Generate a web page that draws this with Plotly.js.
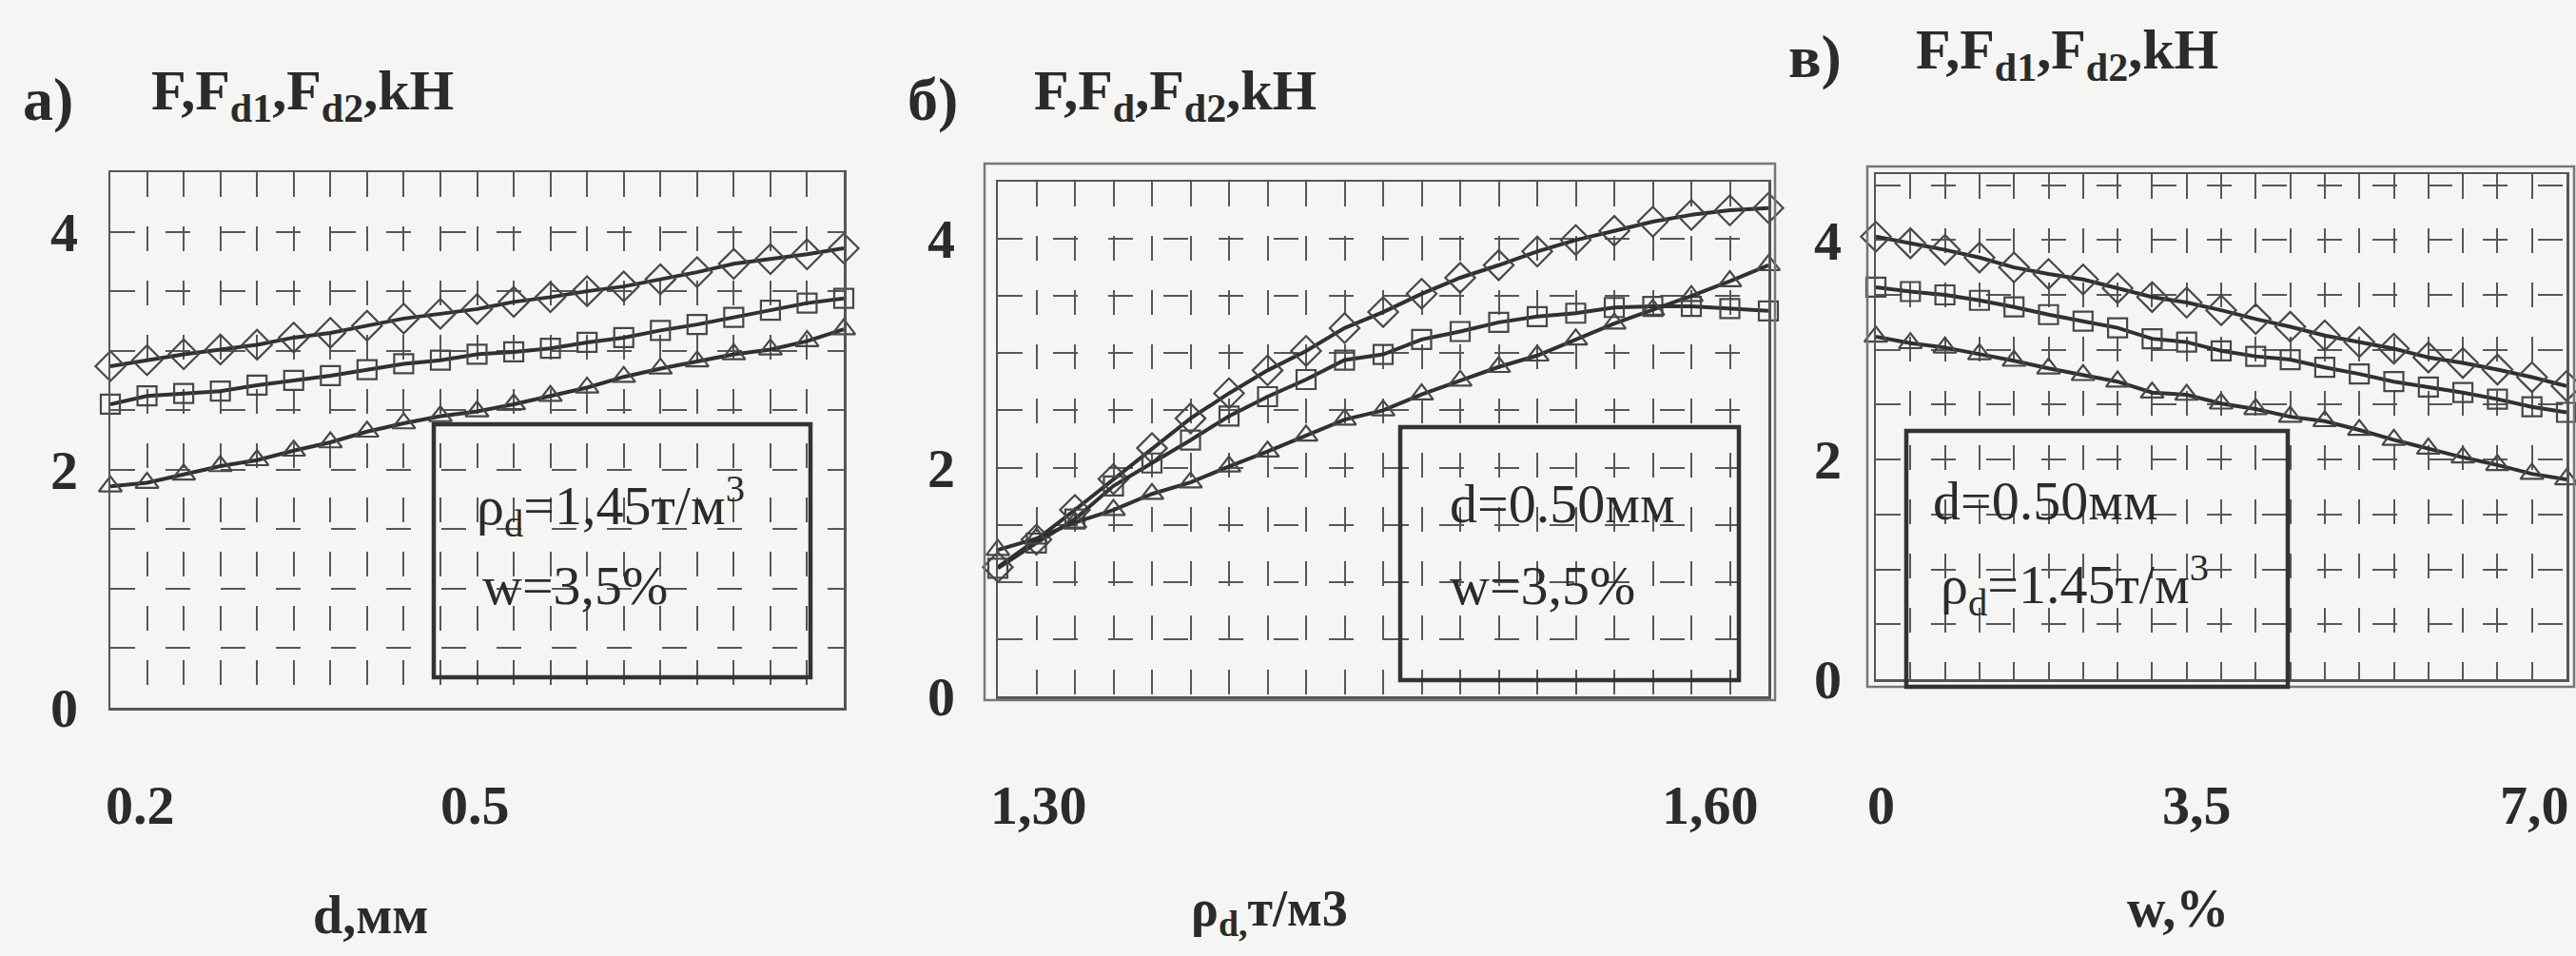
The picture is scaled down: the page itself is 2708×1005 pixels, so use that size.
<!DOCTYPE html>
<html>
<head>
<meta charset="utf-8">
<script src="https://cdn.plot.ly/plotly-3.0.1.min.js"></script>
<style>
  html, body { margin: 0; padding: 0; background: #f5f5f3; }
  #chart { width: 2708px; height: 1005px; }
</style>
</head>
<body>
<div id="chart"></div>
<script>
// ---------- data ----------
// panel a: force vs particle size d, mm
const dA = [0.20,0.23,0.26,0.29,0.32,0.35,0.38,0.41,0.44,0.47,0.50,0.53,0.56,0.59,0.62,0.65,0.68,0.71,0.74,0.77,0.80];
const F_A   = [2.87,2.92,2.97,3.01,3.05,3.11,3.15,3.21,3.27,3.31,3.35,3.41,3.45,3.50,3.54,3.60,3.66,3.73,3.77,3.81,3.86];
const Fd1_A = [2.55,2.62,2.64,2.66,2.71,2.75,2.79,2.84,2.89,2.92,2.97,2.99,3.02,3.07,3.11,3.17,3.22,3.28,3.34,3.40,3.44];
const Fd2_A = [1.86,1.89,1.96,2.03,2.08,2.16,2.23,2.32,2.39,2.45,2.49,2.55,2.62,2.69,2.78,2.85,2.91,2.97,3.01,3.08,3.18];

// panel b: force vs dry density rho_d, t/m3
const rhoB = [1.300,1.315,1.330,1.345,1.360,1.375,1.390,1.405,1.420,1.435,1.450,1.465,1.480,1.495,1.510,1.525,1.540,1.555,1.570,1.585,1.600];
const F_B   = [1.13,1.37,1.63,1.90,2.17,2.43,2.65,2.85,3.02,3.22,3.36,3.52,3.66,3.77,3.89,3.99,4.07,4.15,4.21,4.25,4.27];
const Fd1_B = [1.12,1.34,1.55,1.84,2.04,2.24,2.45,2.62,2.77,2.94,2.99,3.12,3.19,3.27,3.32,3.35,3.40,3.41,3.41,3.39,3.37];
const Fd2_B = [1.28,1.38,1.52,1.63,1.77,1.87,2.01,2.14,2.28,2.42,2.50,2.64,2.76,2.88,2.98,3.12,3.26,3.38,3.50,3.63,3.77];

// panel v: force vs moisture w, %
const wV = [0,0.35,0.70,1.05,1.40,1.75,2.10,2.45,2.80,3.15,3.50,3.85,4.20,4.55,4.90,5.25,5.60,5.95,6.30,6.65,7.00];
const F_V   = [4.03,3.97,3.91,3.84,3.75,3.69,3.64,3.56,3.48,3.43,3.36,3.28,3.21,3.13,3.07,3.01,2.93,2.88,2.82,2.75,2.67];
const Fd1_V = [3.57,3.53,3.50,3.45,3.39,3.32,3.26,3.20,3.10,3.07,2.99,2.94,2.91,2.84,2.78,2.71,2.66,2.61,2.55,2.48,2.43];
const Fd2_V = [3.12,3.06,3.02,2.96,2.90,2.83,2.77,2.71,2.61,2.59,2.51,2.46,2.39,2.35,2.27,2.18,2.10,2.02,1.95,1.87,1.82];

// axis tick labels
const yTicks = [0, 2, 4];
const yTickText = ['0', '2', '4'];
const yMinorGrid = [0.5,1,1.5,2.5,3,3.5,4.5];
const xLabA = [0.2, 0.5], xLabAText = ['0.2','0.5'];
const xLabB = [1.30, 1.60], xLabBText = ['1,30','1,60'];
const xLabV = [0, 3.5, 7.0], xLabVText = ['0','3,5','7,0'];

// texts
const panelLetters = ['а)','б)','в)'];
const panelTitles = ['F,F<sub>d1</sub>,F<sub>d2</sub>,kH','F,F<sub>d</sub>,F<sub>d2</sub>,kH','F,F<sub>d1</sub>,F<sub>d2</sub>,kH'];
const axisTitles = ['d,мм','ρ<sub>d,</sub>т/м3','w,%'];
const boxTexts = [
  ['ρ<sub>d</sub>=1,45т/м<sup>3</sup>','w=3,5%'],
  ['d=0.50мм','w=3,5%'],
  ['d=0.50мм','ρ<sub>d</sub>=1.45т/м<sup>3</sup>']
];

// ---------- styling ----------
const W = 2708, H = 1005;
const px = v => v / W;
const py = v => 1 - v / H;
const LINE = '#303030', MK = '#474747', TXT = '#2b2b2b', GRID = '#575757';
const SERIF = 'Liberation Serif, Times New Roman, serif';

function series(x, y, xa, ya, symbol, size) {
  return {
    x: x, y: y, xaxis: xa, yaxis: ya, type: 'scatter', mode: 'lines+markers',
    cliponaxis: false, hoverinfo: 'skip',
    line: {color: LINE, width: 4},
    marker: {symbol: symbol, size: size, color: MK, line: {color: MK, width: 2.2}}
  };
}

const traces = [
  series(dA, F_A, 'x', 'y', 'diamond-open', 24),
  series(dA, Fd1_A, 'x', 'y', 'square-open', 20),
  series(dA, Fd2_A, 'x', 'y', 'triangle-up-open', 21),
  series(rhoB, F_B, 'x2', 'y2', 'diamond-open', 24),
  series(rhoB, Fd1_B, 'x2', 'y2', 'square-open', 20),
  series(rhoB, Fd2_B, 'x2', 'y2', 'triangle-up-open', 21),
  series(wV, F_V, 'x3', 'y3', 'diamond-open', 24),
  series(wV, Fd1_V, 'x3', 'y3', 'square-open', 20),
  series(wV, Fd2_V, 'x3', 'y3', 'triangle-up-open', 21)
];

function xAxis(domain, range, gridVals, anchor) {
  return {
    domain: domain, range: range, anchor: anchor,
    tickmode: 'array', tickvals: gridVals, showticklabels: false, ticks: '',
    showgrid: true, gridcolor: GRID, gridwidth: 2, griddash: '26px,31px',
    zeroline: false, showline: true, mirror: true, linecolor: '#555', linewidth: 2.5,
    fixedrange: true
  };
}
function yAxis(domain, range, anchor, standoff) {
  return {
    domain: domain, range: range, anchor: anchor,
    tickmode: 'array', tickvals: yTicks, ticktext: yTickText, ticks: '',
    ticklabelstandoff: standoff,
    tickfont: {family: SERIF, size: 58, color: TXT, weight: 'bold'},
    showgrid: true, gridcolor: GRID, gridwidth: 2, griddash: '26px,32px',
    minor: {tickmode: 'array', tickvals: yMinorGrid, ticks: '', showgrid: true,
            gridcolor: GRID, gridwidth: 2, griddash: '26px,32px'},
    zeroline: false, showline: true, mirror: true, linecolor: '#555', linewidth: 2.5,
    fixedrange: true
  };
}

const annotations = [];
function txt(text, x, y, xanchor, size, bold) {
  annotations.push({
    text: text, x: x, y: y, xref: 'paper', yref: 'paper', xanchor: xanchor, yanchor: 'middle',
    showarrow: false, font: {family: SERIF, size: size, color: TXT, weight: bold ? 'bold' : 'normal'}
  });
}
function tickLab(vals, texts, xref, shifts) {
  vals.forEach((v, i) => annotations.push({
    text: texts[i], x: v, y: py(846), xref: xref, yref: 'paper', xanchor: 'center', yanchor: 'middle',
    xshift: shifts[i], showarrow: false,
    font: {family: SERIF, size: 58, color: TXT, weight: 'bold'}
  }));
}

// panel letters and titles
txt(panelLetters[0], px(50), py(105), 'center', 64, true);
txt(panelTitles[0], px(157), py(100), 'left', 60, true);
txt(panelLetters[1], px(980), py(105), 'center', 64, true);
txt(panelTitles[1], px(1085), py(100), 'left', 60, true);
txt(panelLetters[2], px(1908), py(60), 'center', 64, true);
txt(panelTitles[2], px(2012), py(56), 'left', 60, true);

// axis titles
txt(axisTitles[0], px(389), py(962), 'center', 56, true);
txt(axisTitles[1], px(1334), py(958), 'center', 54, true);
txt(axisTitles[2], px(2289), py(955), 'center', 56, true);

// x tick labels
tickLab(xLabA, xLabAText, 'x', [31, -2]);
tickLab(xLabB, xLabBText, 'x2', [43, -61]);
tickLab(xLabV, xLabVText, 'x3', [5, -26, -34]);

// condition box texts
txt(boxTexts[0][0], px(499), py(532), 'left', 58, false);
txt(boxTexts[0][1], px(505), py(615), 'left', 58, false);
txt(boxTexts[1][0], px(1522), py(529), 'left', 58, false);
txt(boxTexts[1][1], px(1522), py(615), 'left', 58, false);
txt(boxTexts[2][0], px(2030), py(526), 'left', 58, false);
txt(boxTexts[2][1], px(2038), py(615), 'left', 58, false);

function rect(x0, y0, x1, y1, color, width) {
  return {type: 'rect', xref: 'paper', yref: 'paper', x0: px(x0), x1: px(x1), y0: py(y1), y1: py(y0),
          line: {color: color, width: width}, fillcolor: 'rgba(0,0,0,0)', layer: 'above'};
}
const shapes = [
  // outer chart frames of panels b and v
  rect(1035, 172, 1866, 736, '#777', 2.5),
  rect(1963, 175, 2706, 722, '#777', 2.5),
  // condition boxes
  rect(456, 446, 852, 712, '#333', 4.5),
  rect(1472, 449, 1828, 715, '#333', 4.5),
  rect(2004, 453, 2405, 722, '#333', 4.5)
];

const layout = {
  width: W, height: H,
  margin: {l: 0, r: 0, t: 0, b: 0},
  paper_bgcolor: '#f5f5f3', plot_bgcolor: 'rgba(0,0,0,0)',
  showlegend: false,
  font: {family: SERIF, color: TXT},
  xaxis:  xAxis([px(116), px(887)], [0.2, 0.8], dA, 'y'),
  yaxis:  yAxis([py(744), py(181)], [0, 4.5], 'x', 20),
  xaxis2: xAxis([px(1049), px(1859)], [1.30, 1.60], rhoB, 'y2'),
  yaxis2: yAxis([py(732), py(191)], [0, 4.5], 'x2', 31),
  xaxis3: xAxis([px(1972), px(2698)], [0, 7.0], wV, 'y3'),
  yaxis3: yAxis([py(714), py(183)], [0, 4.6], 'x3', 22),
  annotations: annotations,
  shapes: shapes
};

Plotly.newPlot('chart', traces, layout, {staticPlot: true, displayModeBar: false});
</script>
</body>
</html>
